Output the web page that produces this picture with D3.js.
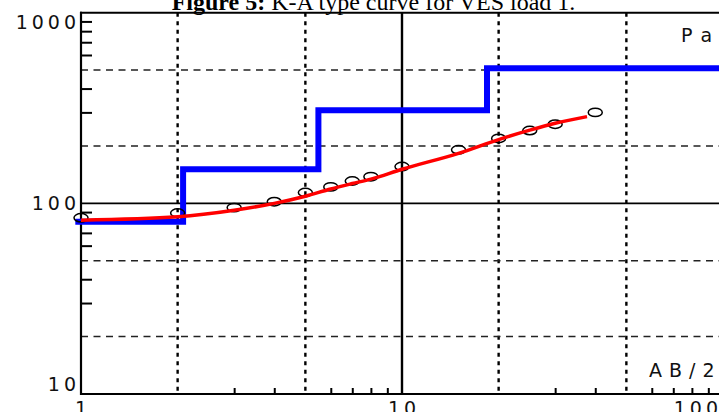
<!DOCTYPE html>
<html>
<head>
<meta charset="utf-8">
<script src="https://cdn.jsdelivr.net/npm/d3@7"></script>
<style>
  html, body { margin: 0; padding: 0; background: #fff; overflow: hidden; }
  svg { display: block; }
</style>
</head>
<body>
<svg id="chart" width="719" height="412"></svg>
<script>
// ---------- data ----------
const titleBold = "Figure 5:";
const titleRest = " K-A type curve for VES load 1.";
const xLabel = "AB/2";
const yLabel = "Pa";

// observed field data (AB/2 in m, apparent resistivity)
const abHalf  = [1, 2, 3, 4, 5, 6, 7, 8, 10, 15, 20, 25, 30, 40];
const rhoObs  = [84, 89, 95, 102, 114, 122, 131, 138, 156, 191, 219, 241, 260, 300];

// calculated (model) curve
const calcAB   = [1, 2, 3, 4, 5, 6, 7, 8, 10, 15, 20, 25, 30, 37.7];
const rhoCalc  = [81.6, 85, 92, 100, 109, 119, 127, 134, 151, 183, 216, 242, 263, 285];

// layered model (step curve): boundaries and layer resistivities
const layerX   = [0.96, 2.08, 5.49, 18.4, 100];
const layerRho = [80, 151, 308, 511, 511];

// axes
const xMajorTicks = [1, 10, 100];
const xMajorLabels = ["1", "10", "100"];
const xDotted = [2, 5, 20, 50];
const xMinor = [3, 4, 6, 7, 8, 9, 30, 40, 60, 70, 80, 90];
const yMajorTicks = [10, 100, 1000];
const yMajorLabels = ["10", "100", "1000"];
const yDashed = [20, 50, 200, 500];
const yMinor = [30, 40, 60, 70, 80, 90, 300, 400, 600, 700, 800, 900];

// ---------- chart ----------
const svg = d3.select("#chart");
const pL = 81, pR = 723, pT = 12.7, pB = 394;
const x = d3.scaleLog().domain([1, 100]).range([pL, pR]);
const y = d3.scaleLog().domain([10, 1000]).range([pB, pT]);

// grid: dotted verticals
svg.append("g").selectAll("line").data(xDotted).join("line")
  .attr("x1", d => x(d)).attr("x2", d => x(d))
  .attr("y1", pT).attr("y2", pB)
  .attr("stroke", "#000").attr("stroke-width", 2.4)
  .attr("stroke-dasharray", "4,4.5");

// dashed horizontals
svg.append("g").selectAll("line").data(yDashed).join("line")
  .attr("x1", pL).attr("x2", 719)
  .attr("y1", d => y(d)).attr("y2", d => y(d))
  .attr("stroke", "#222").attr("stroke-width", 1.5)
  .attr("stroke-dasharray", "7,5.5");

// solid decade lines
svg.append("line")
  .attr("x1", x(10)).attr("x2", x(10)).attr("y1", pT).attr("y2", pB)
  .attr("stroke", "#000").attr("stroke-width", 2.4);
svg.append("line")
  .attr("x1", pL).attr("x2", 719).attr("y1", y(100)).attr("y2", y(100))
  .attr("stroke", "#000").attr("stroke-width", 1.6);

// minor ticks via d3 axes
const xAxisMinor = d3.axisBottom(x).tickValues(xMinor).tickFormat("").tickSizeInner(-6).tickSizeOuter(0);
svg.append("g").attr("transform", `translate(0,${pB})`).call(xAxisMinor)
  .call(g => g.select(".domain").remove())
  .call(g => g.selectAll("line").attr("stroke", "#000").attr("stroke-width", 2));

const yAxisMinor = d3.axisLeft(y).tickValues(yMinor).tickFormat("").tickSizeInner(-11).tickSizeOuter(0);
svg.append("g").attr("transform", `translate(${pL},0)`).call(yAxisMinor)
  .call(g => g.select(".domain").remove())
  .call(g => g.selectAll("line").attr("stroke", "#000").attr("stroke-width", 2));

// frame: left axis, bottom axis, top border
svg.append("line").attr("x1", pL).attr("x2", pL).attr("y1", pT - 1).attr("y2", pB + 1)
  .attr("stroke", "#000").attr("stroke-width", 2.2);
svg.append("line").attr("x1", pL - 1).attr("x2", 719).attr("y1", pB).attr("y2", pB)
  .attr("stroke", "#000").attr("stroke-width", 2.2);
svg.append("line").attr("x1", pL - 1).attr("x2", 719).attr("y1", pT).attr("y2", pT)
  .attr("stroke", "#000").attr("stroke-width", 2);

// tick labels
const labelFont = "'DejaVu Sans', Verdana, sans-serif";
svg.append("g").selectAll("text").data(yMajorTicks).join("text")
  .attr("x", pL - 1)
  .attr("y", d => Math.min(Math.max(y(d), pT + 9), pB - 10))
  .attr("dominant-baseline", "central")
  .attr("text-anchor", "end")
  .attr("font-family", labelFont).attr("font-size", 19).attr("letter-spacing", 4)
  .attr("fill", "#111")
  .text((d, i) => yMajorLabels[i]);

svg.append("g").selectAll("text").data(xMajorTicks).join("text")
  .attr("x", (d, i) => i === xMajorTicks.length - 1 ? x(d) - 1 : x(d) + 2)
  .attr("y", pB + 20.5)
  .attr("text-anchor", (d, i) => i === xMajorTicks.length - 1 ? "end" : "middle")
  .attr("font-family", labelFont).attr("font-size", 19).attr("letter-spacing", 4)
  .attr("fill", "#111")
  .text((d, i) => xMajorLabels[i]);

// axis titles
svg.append("text").attr("x", 649).attr("y", 377)
  .attr("font-family", labelFont).attr("font-size", 19).attr("letter-spacing", 7)
  .attr("fill", "#111").text(xLabel);
svg.append("text").attr("x", 681).attr("y", 41.5)
  .attr("font-family", labelFont).attr("font-size", 19).attr("letter-spacing", 9)
  .attr("fill", "#111").text(yLabel);

// model step curve
const stepLine = d3.line().x((d, i) => x(layerX[i])).y(d => y(d)).curve(d3.curveStepAfter);
svg.append("path").datum(layerRho)
  .attr("d", stepLine)
  .attr("fill", "none").attr("stroke", "#0000ff").attr("stroke-width", 6)
  .attr("stroke-linejoin", "miter");

// observed points
svg.append("g").selectAll("ellipse").data(rhoObs).join("ellipse")
  .attr("cx", (d, i) => x(abHalf[i])).attr("cy", d => y(d))
  .attr("rx", 7).attr("ry", 4.2)
  .attr("fill", "none").attr("stroke", "#000").attr("stroke-width", 1.5);

// calculated curve
const calcLine = d3.line().x((d, i) => x(calcAB[i])).y(d => y(d)).curve(d3.curveMonotoneX);
svg.append("path").datum(rhoCalc)
  .attr("d", calcLine)
  .attr("fill", "none").attr("stroke", "#ff0000").attr("stroke-width", 3.5);

// title (cut at top)
const title = svg.append("text").attr("x", 373.5).attr("y", 9.5)
  .attr("text-anchor", "middle")
  .attr("font-family", "'Liberation Serif', 'Times New Roman', serif")
  .attr("font-size", 24).attr("fill", "#000");
title.append("tspan").attr("font-weight", "bold").text(titleBold);
title.append("tspan").text(titleRest);
</script>
</body>
</html>
